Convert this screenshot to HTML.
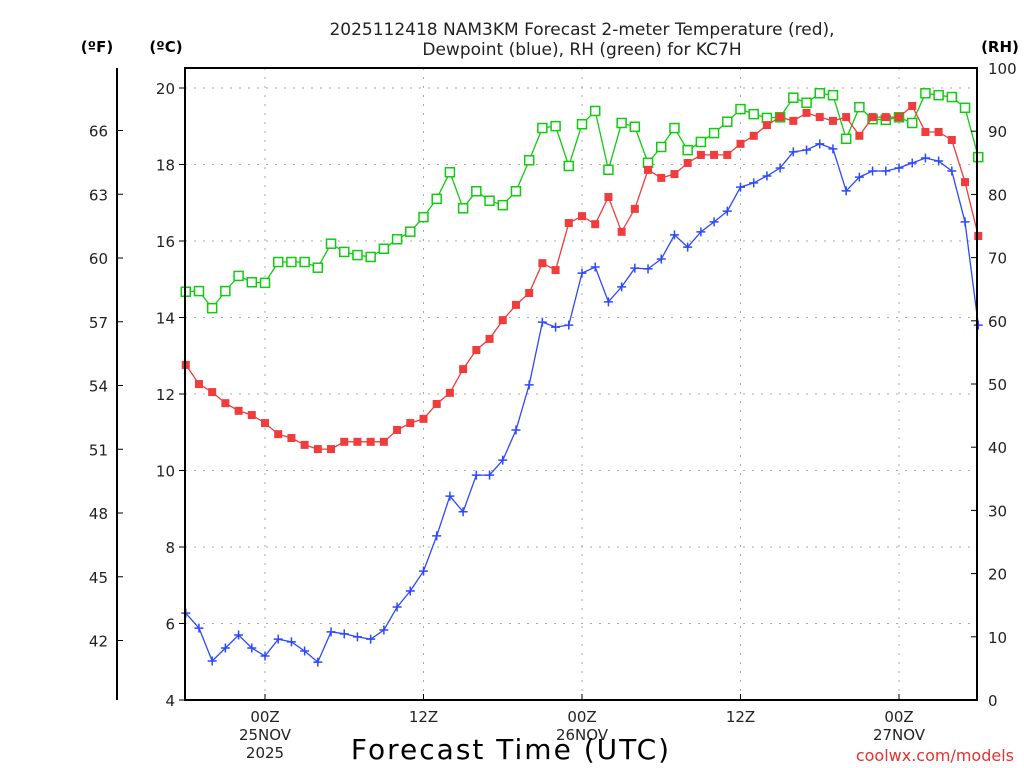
<!DOCTYPE html>
<html><head><meta charset="utf-8"><style>
body{margin:0;background:#fff;}
svg{display:block;font-family:"DejaVu Sans","Liberation Sans",sans-serif;}
</style></head><body>
<svg id="chart" width="1024" height="768" xmlns="http://www.w3.org/2000/svg">
<rect width="1024" height="768" fill="#fff"/>
<g id="grid"></g>
<g id="series"></g>
<rect x="185" y="68" width="792" height="632" fill="none" stroke="#000" stroke-width="2"/>
<line x1="117" y1="68" x2="117" y2="700" stroke="#000" stroke-width="2"/>
<g id="axes" font-size="15" fill="#222"></g>
<text x="582" y="35" font-size="17" text-anchor="middle" fill="#222">2025112418 NAM3KM Forecast 2-meter Temperature (red),</text>
<text x="582" y="55" font-size="17" text-anchor="middle" fill="#222">Dewpoint (blue), RH (green) for KC7H</text>
<text x="97" y="52" font-size="15" font-weight="bold" text-anchor="middle">(ºF)</text>
<text x="166" y="52" font-size="15" font-weight="bold" text-anchor="middle">(ºC)</text>
<text x="1000" y="52" font-size="15" font-weight="bold" text-anchor="middle">(RH)</text>
<text x="511" y="759" font-size="28" letter-spacing="2" text-anchor="middle" fill="#000">Forecast Time (UTC)</text>
<text x="1014" y="761" font-size="16" text-anchor="end" fill="#e83030">coolwx.com/models</text>
</svg>
<script>
const hours=[-6,-5,-4,-3,-2,-1,0,1,2,3,4,5,6,7,8,9,10,11,12,13,14,15,16,17,18,19,20,21,22,23,24,25,26,27,28,29,30,31,32,33,34,35,36,37,38,39,40,41,42,43,44,45,46,47,48,49,50,51,52,53,54];
const tempC=[12.76,12.26,12.05,11.76,11.56,11.45,11.24,10.95,10.85,10.67,10.56,10.56,10.75,10.75,10.75,10.75,11.06,11.24,11.35,11.74,12.03,12.65,13.15,13.44,13.93,14.33,14.64,15.42,15.24,16.47,16.65,16.44,17.15,16.24,16.84,17.86,17.65,17.75,18.04,18.25,18.25,18.25,18.54,18.75,19.03,19.24,19.14,19.35,19.24,19.14,19.24,18.75,19.24,19.24,19.24,19.53,18.85,18.85,18.64,17.54,16.13];
const dewC=[6.27,5.88,5.02,5.36,5.70,5.36,5.15,5.59,5.52,5.28,4.99,5.78,5.73,5.65,5.59,5.83,6.43,6.85,7.37,8.29,9.33,8.92,9.88,9.88,10.27,11.06,12.24,13.88,13.75,13.80,15.16,15.32,14.41,14.80,15.29,15.27,15.53,16.16,15.84,16.24,16.50,16.78,17.41,17.52,17.70,17.91,18.33,18.38,18.54,18.41,17.31,17.67,17.83,17.83,17.91,18.04,18.17,18.09,17.83,16.50,13.80];
const rh=[64.6,64.7,62.0,64.7,67.1,66.1,66.0,69.3,69.3,69.3,68.4,72.2,70.9,70.4,70.1,71.4,72.9,74.1,76.4,79.3,83.5,77.8,80.5,79.0,78.3,80.5,85.4,90.5,90.8,84.5,91.1,93.2,83.9,91.3,90.7,85.0,87.5,90.5,87.0,88.3,89.7,91.5,93.5,92.7,92.1,92.2,95.3,94.5,96.0,95.7,88.8,93.8,91.9,91.8,92.2,91.3,96.0,95.7,95.4,93.7,85.9];
const cTicks=[4,6,8,10,12,14,16,18,20];
const fTicks=[42,45,48,51,54,57,60,63,66];
const rhTicks=[0,10,20,30,40,50,60,70,80,90,100];
const xTickHours=[0,12,24,36,48];
const xTickLabels=[["00Z","25NOV","2025"],["12Z"],["00Z","26NOV"],["12Z"],["00Z","27NOV"]];

const NS="http://www.w3.org/2000/svg";
const X=h=>265+(h)*(634/48);
const Yc=c=>700-(c-4)*38.25;
const Yr=r=>700-r*6.32;
function mk(tag,attrs,parent){const e=document.createElementNS(NS,tag);for(const k in attrs)e.setAttribute(k,attrs[k]);parent.appendChild(e);return e;}
const grid=document.getElementById('grid'),axes=document.getElementById('axes'),ser=document.getElementById('series');
cTicks.forEach(c=>{
  const y=Yc(c);
  if(c>4){const g=mk('line',{x1:185,x2:977,y1:y,y2:y,stroke:'#aaa','stroke-dasharray':'2,7'},grid);
  
  }
  const t=mk('line',{x1:179,x2:185,y1:y,y2:y,stroke:'#000'},axes);
  
  
  const l=mk('text',{x:175,y:y+6,'text-anchor':'end'},axes);l.textContent=c;
  
  
});
fTicks.forEach(f=>{
  const y=Yc((f-32)*5/9);
  const t=mk('line',{x1:117,x2:123,y1:y,y2:y,stroke:'#000'},axes);
  
  
  const l=mk('text',{x:108,y:y+6,'text-anchor':'end'},axes);l.textContent=f;
  
  
});
rhTicks.forEach(r=>{
  const y=Yr(r);
  const t=mk('line',{x1:971,x2:977,y1:y,y2:y,stroke:'#000'},axes);
  
  
  const l=mk('text',{x:988,y:y+6,'text-anchor':'start'},axes);l.textContent=r;
  
  
});
xTickHours.forEach((h,i)=>{
  const x=X(h);
  const g=mk('line',{x1:x,x2:x,y1:68,y2:700,stroke:'#aaa','stroke-dasharray':'2,7'},grid);
  
  
  const t=mk('line',{x1:x,x2:x,y1:694,y2:700,stroke:'#000'},axes);
  
  
  xTickLabels[i].forEach((s,j)=>{
    const l=mk('text',{x:x,y:722+j*18,'text-anchor':'middle'},axes);l.textContent=s;
    
    
  });
});
function series(vals,Yf,color,kind,name){
  const g=mk('g',{},ser);
  
  
  const pts=vals.map((v,i)=>X(hours[i]).toFixed(1)+','+Yf(v).toFixed(1)).join(' ');
  const pl=mk('polyline',{points:pts,fill:'none',stroke:color,'stroke-width':1.3},g);
  
  
  vals.forEach((v,i)=>{
    const x=X(hours[i]),y=Yf(v);let m;
    if(kind==='fill')m=mk('rect',{x:x-4,y:y-4,width:8,height:8,fill:color},g);
    else if(kind==='hollow')m=mk('rect',{x:x-4.5,y:y-4.5,width:9,height:9,fill:'#fff',stroke:color,'stroke-width':1.5},g);
    else m=mk('path',{d:`M${x-4.5},${y}H${x+4.5}M${x},${y-4.5}V${y+4.5}`,stroke:color,'stroke-width':1.5},g);
    
    
  });
}
series(rh,Yr,'#10cc10','hollow','rh-series');
series(tempC,Yc,'#f03c3c','fill','temperature-series');
series(dewC,Yc,'#2c48ff','plus','dewpoint-series');
</script>
</body></html>
